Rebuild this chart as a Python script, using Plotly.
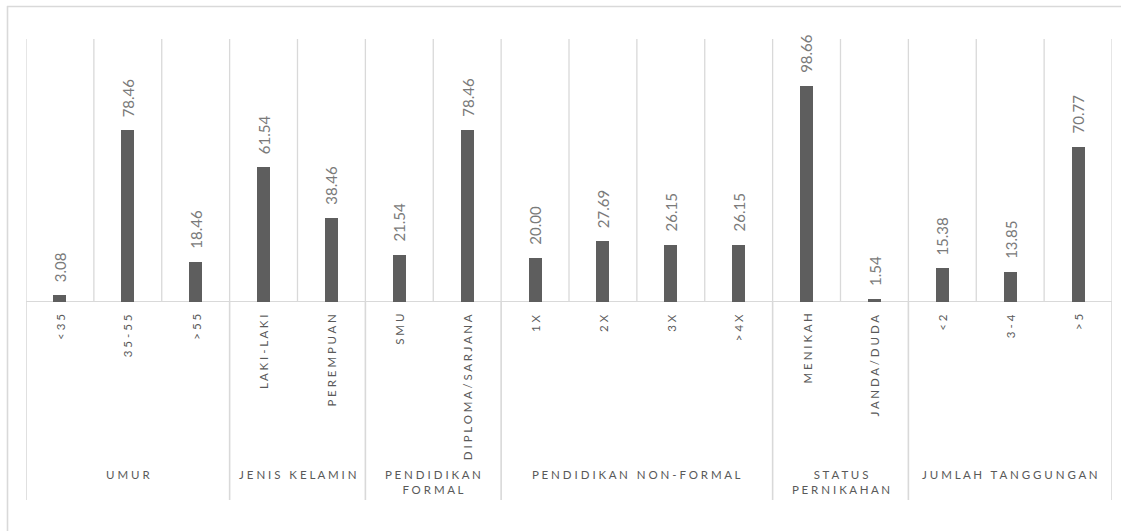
import plotly.graph_objects as go

# Survey respondent characteristics (percent)
categories = ["<35", "35-55", ">55",
              "LAKI-LAKI", "PEREMPUAN",
              "SMU", "DIPLOMA/SARJANA",
              "1X", "2X", "3X", ">4X",
              "MENIKAH", "JANDA/DUDA",
              "<2", "3-4", ">5"]
values = [3.08, 78.46, 18.46,
          61.54, 38.46,
          21.54, 78.46,
          20.00, 27.69, 26.15, 26.15,
          98.66, 1.54,
          15.38, 13.85, 70.77]
groups = ["UMUR", "JENIS KELAMIN", "PENDIDIKAN FORMAL",
          "PENDIDIKAN NON-FORMAL", "STATUS PERNIKAHAN", "JUMLAH TANGGUNGAN"]
group_lines = [["UMUR"], ["JENIS KELAMIN"], ["PENDIDIKAN", "FORMAL"],
               ["PENDIDIKAN NON-FORMAL"], ["STATUS", "PERNIKAHAN"],
               ["JUMLAH TANGGUNGAN"]]
group_sizes = [3, 2, 2, 4, 2, 3]

W, H = 1121, 531
L, R, T, B = 26, 9, 39, 229
plot_w = W - L - R
plot_h = H - T - B
Y_MAX = 120

BAR = "#5e5e5e"
GRID = "#d9d9d9"
LABEL = "#7a7a7a"
AXIS_TXT = "#595959"
FONT = "Lato"


def spaced(s):
    """Widen text by putting a space between letters (Excel-style spacing)."""
    words = s.split(" ")
    out = "\u00a0\u00a0\u00a0".join(" ".join(list(w)) for w in words)
    return out.replace("<", "&lt;").replace(">", "&gt;")


def px_to_paper_y(py):
    return (H - B - py) / plot_h


def px_to_paper_x(px):
    return (px - L) / plot_w


n = len(categories)
xs = list(range(n))

fig = go.Figure(go.Bar(
    x=xs, y=values, width=0.19,
    marker=dict(color=BAR, line=dict(width=0)),
    hoverinfo="skip",
))

shapes = []
# vertical gridlines between categories
for i in range(n + 1):
    shapes.append(dict(type="line", xref="x", yref="y",
                       x0=i - 0.5, x1=i - 0.5, y0=0, y1=Y_MAX,
                       line=dict(color=GRID, width=1.3), layer="below"))
# group separators extending through the label area
bounds = [0]
for s in group_sizes:
    bounds.append(bounds[-1] + s)
for b in bounds:
    shapes.append(dict(type="line", xref="x", yref="paper",
                       x0=b - 0.5, x1=b - 0.5, y0=0, y1=px_to_paper_y(500),
                       line=dict(color=GRID, width=1.6), layer="below"))
# category axis baseline
shapes.append(dict(type="line", xref="paper", yref="y",
                   x0=0, x1=1, y0=0, y1=0,
                   line=dict(color=GRID, width=1.8), layer="below"))
# chart-area border (top and left edges)
shapes.append(dict(type="line", xref="paper", yref="paper",
                   x0=px_to_paper_x(7), x1=px_to_paper_x(W + 5),
                   y0=px_to_paper_y(6.5), y1=px_to_paper_y(6.5),
                   line=dict(color=GRID, width=1.6)))
shapes.append(dict(type="line", xref="paper", yref="paper",
                   x0=px_to_paper_x(7.5), x1=px_to_paper_x(7.5),
                   y0=px_to_paper_y(6), y1=px_to_paper_y(H + 5),
                   line=dict(color=GRID, width=1.6)))

annotations = []
# value labels above bars
for x, v in zip(xs, values):
    annotations.append(dict(x=x, y=v, xref="x", yref="y",
                            text=f"{v:.2f}", textangle=-90, showarrow=False,
                            xanchor="center", yanchor="bottom", yshift=11,
                            font=dict(family=FONT, size=15, color=LABEL)))
# category labels under the axis
for x, c in zip(xs, categories):
    annotations.append(dict(x=x, y=px_to_paper_y(312), xref="x", yref="paper",
                            text=spaced(c), textangle=-90, showarrow=False,
                            xanchor="center", yanchor="top",
                            font=dict(family=FONT, size=11.5, color=AXIS_TXT)))
# group labels
for gi, lines in enumerate(group_lines):
    cx = (bounds[gi] + bounds[gi + 1] - 1) / 2
    annotations.append(dict(x=cx, y=px_to_paper_y(466), xref="x", yref="paper",
                            text="<br>".join(spaced(l) for l in lines),
                            showarrow=False, xanchor="center", yanchor="top",
                            align="center",
                            font=dict(family=FONT, size=11.5, color=AXIS_TXT)))

fig.update_layout(
    width=W, height=H,
    margin=dict(l=L, r=R, t=T, b=B, pad=0),
    paper_bgcolor="white", plot_bgcolor="white",
    showlegend=False,
    xaxis=dict(range=[-0.5, n - 0.5], visible=False, fixedrange=True),
    yaxis=dict(range=[0, Y_MAX], visible=False, fixedrange=True),
    shapes=shapes, annotations=annotations,
    bargap=0,
)

fig.write_html("out.html", config={"displayModeBar": False})
